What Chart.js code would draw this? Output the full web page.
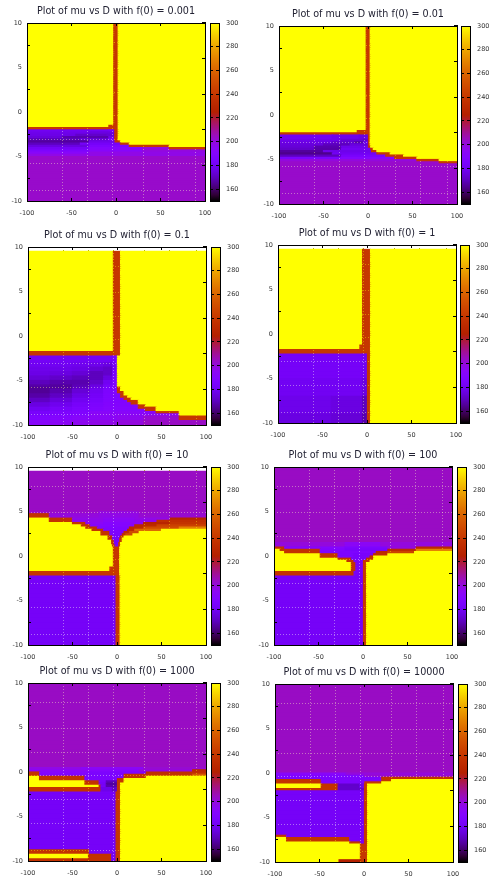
<!DOCTYPE html>
<html>
<head>
<meta charset="utf-8">
<title>mu vs D</title>
<script src="https://cdn.jsdelivr.net/npm/chart.js@4"></script>
<style>
  html, body { margin: 0; padding: 0; background: #fff; }
  body { position: relative; width: 504px; height: 891px; overflow: hidden; }
  canvas { position: absolute; }
</style>
</head>
<body>
<script>
// one row band = [mu top, mu bottom, D breaks, value of each D run]
const f0Labels = ['0.001', '0.01', '0.1', '1', '10', '100', '1000', '10000'];
const dTicks = [-100, -50, 0, 50, 100];
const muTicks = [-10, -5, 0, 5, 10];
const cbTicks = [160, 180, 200, 220, 240, 260, 280, 300];
const cbRange = [150, 300];
const seamD = [-60, -32, -4, 31, 59, 89];
const seamMu = [7.6, 4, 1.2, -2.2, -5.1, -8.8];

const bandsF001 = [
  [10, -1.5, [-100, -2.5, 2.5, 100], [300, 240, 300]],
  [-1.5, -1.75, [-100, -8, 2.5, 100], [300, 240, 300]],
  [-1.75, -2, [-100, 2.5, 100], [240, 300]],
  [-2, -2.25, [-100, -8, -1.5, 2.5, 100], [180, 182, 240, 300]],
  [-2.25, -2.5, [-100, -30, -1.5, 2.5, 100], [178, 176, 240, 300]],
  [-2.5, -2.75, [-100, -45, -10, -1.5, 2.5, 100], [177, 172, 174, 240, 300]],
  [-2.75, -3, [-100, -60, -8, -1.5, 2.5, 100], [175, 168, 178, 240, 300]],
  [-3, -3.25, [-100, -40, -8, -1.5, 2.5, 100], [170, 174, 185, 240, 300]],
  [-3.25, -3.5, [-100, -30, -1, 5, 100], [166, 178, 240, 300]],
  [-3.5, -3.75, [-100, -40, 5, 15, 100], [170, 182, 240, 300]],
  [-3.75, -4, [-100, -30, 15, 60, 100], [176, 186, 240, 300]],
  [-4, -4.25, [-100, -30, 30, 60, 100], [182, 190, 200, 240]],
  [-4.25, -4.5, [-100, -30, 30, 100], [186, 192, 200]],
  [-4.5, -4.75, [-100, -30, 100], [192, 198]],
  [-4.75, -5, [-100, 100], [198]],
  [-5, -10, [-100, 100], [203]]
];

const bandsF01 = [
  [10, -1.75, [-100, -2, 2.5, 100], [300, 240, 300]],
  [-1.75, -2, [-100, -12, 2.5, 100], [300, 240, 300]],
  [-2, -2.25, [-100, 2.5, 100], [240, 300]],
  [-2.25, -2.75, [-100, -40, -10, 0, 2.5, 100], [180, 178, 176, 240, 300]],
  [-2.75, -3, [-100, -30, -5, 0, 2.5, 100], [178, 174, 172, 240, 300]],
  [-3, -3.25, [-100, -40, -15, -5, 0, 2.5, 100], [177, 173, 168, 178, 240, 300]],
  [-3.25, -3.5, [-100, -50, -20, 0, 2.5, 100], [175, 170, 175, 240, 300]],
  [-3.5, -3.75, [-100, -60, -30, 0, 3, 100], [174, 168, 178, 240, 300]],
  [-3.75, -4, [-100, -60, -30, 3, 6, 100], [172, 167, 180, 240, 300]],
  [-4, -4.25, [-100, -50, 4, 10, 100], [166, 178, 240, 300]],
  [-4.25, -4.5, [-100, -40, 10, 25, 100], [164, 180, 240, 300]],
  [-4.5, -4.75, [-100, -30, 20, 40, 100], [170, 184, 240, 300]],
  [-4.75, -5, [-100, -30, 30, 55, 100], [185, 190, 240, 300]],
  [-5, -5.25, [-100, 55, 80, 100], [200, 240, 300]],
  [-5.25, -5.5, [-100, 80, 100], [203, 240]],
  [-5.5, -10, [-100, 100], [203]]
];

const bandsF1 = [
  [9.5, -1.75, [-100, -4, 4, 100], [300, 240, 300]],
  [-1.75, -2.25, [-100, 4, 100], [240, 300]],
  [-2.25, -3, [-100, -5, 0.5, 100], [181, 184, 300]],
  [-3, -3.5, [-100, -50, -30, -15, -5, 0.5, 100], [180, 179, 178, 176, 182, 300]],
  [-3.5, -4, [-100, -50, -30, -15, -5, 0.5, 100], [178, 177, 174, 172, 182, 300]],
  [-4, -4.5, [-100, -75, -50, -30, -15, -5, 0.5, 100], [177, 176, 174, 170, 172, 184, 300]],
  [-4.5, -5, [-100, -75, -50, -30, -15, -5, 0.5, 100], [174, 172, 170, 170, 176, 186, 300]],
  [-5, -5.5, [-100, -75, -50, -30, -15, -5, 0.5, 100], [170, 168, 168, 172, 180, 187, 300]],
  [-5.5, -5.75, [-100, -75, -50, -30, -15, -5, 0.5, 100], [167, 166, 169, 176, 183, 188, 300]],
  [-5.75, -6, [-100, -75, -50, -30, -15, -5, 0, 4, 100], [165, 166, 171, 178, 185, 188, 240, 300]],
  [-6, -6.25, [-100, -75, -50, -30, -15, -5, 0, 4, 100], [165, 168, 174, 180, 186, 188, 240, 300]],
  [-6.25, -6.5, [-100, -75, -50, -30, -15, -5, 0, 8, 100], [165, 168, 174, 180, 186, 188, 240, 300]],
  [-6.5, -6.75, [-100, -75, -50, -30, -15, 4, 8, 100], [167, 171, 177, 182, 187, 240, 300]],
  [-6.75, -7, [-100, -75, -50, -30, -15, 4, 12, 100], [167, 171, 177, 182, 187, 240, 300]],
  [-7, -7.25, [-100, -75, -50, -30, -15, 8, 16, 100], [171, 175, 180, 184, 188, 240, 300]],
  [-7.25, -7.5, [-100, -75, -50, -30, -15, 12, 24, 100], [171, 175, 180, 184, 188, 240, 300]],
  [-7.5, -7.75, [-100, -75, -50, -30, -15, 16, 24, 100], [176, 179, 183, 186, 189, 240, 300]],
  [-7.75, -8, [-100, -75, -50, -30, -15, 24, 32, 100], [176, 179, 183, 186, 189, 240, 300]],
  [-8, -8.25, [-100, -75, -50, -30, -15, 24, 44, 100], [180, 183, 186, 188, 190, 240, 300]],
  [-8.25, -8.5, [-100, -75, -50, -30, -15, 32, 44, 100], [180, 183, 186, 188, 190, 240, 300]],
  [-8.5, -8.75, [-100, -75, -50, -30, 44, 70, 100], [184, 186, 188, 192, 240, 300]],
  [-8.75, -9, [-100, -75, -50, -30, 70, 100], [184, 186, 188, 194, 300]],
  [-9, -9.5, [-100, -75, -50, -30, 0, 30, 70, 100], [188, 190, 192, 194, 196, 202, 240]],
  [-9.5, -10, [-100, -75, -50, -30, 0, 30, 100], [192, 194, 196, 198, 200, 204]]
];

const bandsF10 = [
  [9.5, -1.25, [-100, -5, 4, 100], [300, 240, 300]],
  [-1.25, -1.75, [-100, -8, 4, 100], [300, 240, 300]],
  [-1.75, -2.25, [-100, 4, 100], [240, 300]],
  [-2.25, -5, [-100, -5, 0, 4, 100], [182, 180, 240, 300]],
  [-5, -7, [-100, -5, 0, 4, 100], [180, 176, 240, 300]],
  [-7, -9, [-100, -40, -5, 0, 4, 100], [178, 176, 170, 240, 300]],
  [-9, -10, [-100, -40, -5, 0, 4, 100], [176, 174, 168, 240, 300]]
];

const bandsF100 = [
  [9.5, 5, [-100, 100], [204]],
  [5, 4.75, [-100, -20, 25, 100], [203, 200, 203]],
  [4.75, 4.25, [-100, -76, -20, 25, 100], [238, 200, 198, 202]],
  [4.25, 4, [-100, -76, -50, -15, 20, 60, 100], [300, 238, 198, 195, 198, 228]],
  [4, 3.75, [-100, -76, -50, -15, 20, 45, 100], [300, 238, 196, 193, 196, 235]],
  [3.75, 3.5, [-100, -50, -35, -15, 15, 30, 60, 100], [300, 238, 194, 190, 194, 228, 238]],
  [3.5, 3.25, [-100, -40, -30, 20, 45, 100], [300, 238, 190, 232, 245]],
  [3.25, 3, [-100, -35, -22, 14, 30, 70, 100], [300, 238, 188, 232, 250, 270]],
  [3, 2.75, [-100, -28, -15, 12, 20, 50, 100], [300, 238, 187, 232, 262, 300]],
  [2.75, 2.5, [-100, -18, -8, 8, 14, 25, 100], [300, 238, 186, 235, 250, 300]],
  [2.5, 2.25, [-100, -18, -8, 6, 10, 18, 100], [300, 238, 186, 235, 250, 300]],
  [2.25, 2, [-100, -10, -5, 4, 8, 100], [300, 238, 184, 238, 300]],
  [2, 1.75, [-100, -10, -5, 3, 6, 100], [300, 238, 184, 240, 300]],
  [1.75, 1.5, [-100, -6, -3, 3, 6, 100], [300, 238, 184, 240, 300]],
  [1.5, 1.25, [-100, -6, -3, 2, 4, 100], [300, 238, 184, 240, 300]],
  [1.25, 1, [-100, -5, -2, 2, 4, 100], [300, 238, 184, 240, 300]],
  [1, -1.25, [-100, -4, 3, 100], [300, 240, 300]],
  [-1.25, -1.75, [-100, -8, 3, 100], [300, 240, 300]],
  [-1.75, -2.25, [-100, 3, 100], [240, 300]],
  [-2.25, -10, [-100, -1, 3.5, 100], [182, 240, 300]]
];

const bandsF1000 = [
  [10, 1.5, [-100, 100], [204]],
  [1.5, 1, [-100, -20, 20, 100], [200, 194, 200]],
  [1, 0.75, [-100, -88, -20, 28, 60, 100], [238, 190, 186, 200, 232]],
  [0.75, 0.5, [-100, -93, -48, -20, 28, 60, 100], [300, 238, 188, 184, 232, 270]],
  [0.5, 0.25, [-100, -88, -48, 15, 28, 58, 100], [300, 238, 186, 232, 245, 300]],
  [0.25, 0, [-100, -48, -28, -10, 12, 28, 100], [300, 238, 186, 184, 235, 300]],
  [0, -0.25, [-100, -48, -28, -10, 8, 12, 100], [300, 238, 186, 184, 235, 300]],
  [-0.25, -0.5, [-100, -28, -13, 4, 12, 100], [300, 238, 184, 238, 300]],
  [-0.5, -0.75, [-100, -18, -10, 0, 8, 100], [300, 238, 184, 240, 300]],
  [-0.75, -1.75, [-100, -13, -8, 0, 4, 100], [300, 238, 184, 240, 300]],
  [-1.75, -2.25, [-100, -10, 0, 4, 100], [238, 183, 240, 300]],
  [-2.25, -10, [-100, 0, 4, 100], [182, 240, 300]]
];

const bandsF10000 = [
  [10, 0.5, [-100, 100], [204]],
  [0.5, 0.25, [-100, -40, 30, 100], [198, 194, 202]],
  [0.25, 0, [-100, -30, 25, 85, 100], [194, 190, 200, 232]],
  [0, -0.25, [-100, -87, -30, 33, 100], [238, 190, 186, 236]],
  [-0.25, -0.5, [-100, -87, -30, 8, 85, 100], [238, 188, 186, 238, 255]],
  [-0.5, -0.75, [-100, -87, -36, 8, 33, 100], [300, 238, 186, 238, 300]],
  [-0.75, -1, [-100, -87, -36, 0, 8, 100], [300, 238, 186, 238, 300]],
  [-1, -1.25, [-100, -36, -20, -12, 0, 8, 100], [300, 238, 184, 170, 240, 300]],
  [-1.25, -1.5, [-100, -36, -20, -12, 0, 4, 100], [300, 238, 182, 166, 240, 300]],
  [-1.5, -1.75, [-100, -20, -18, -12, 0, 4, 100], [300, 238, 182, 168, 240, 300]],
  [-1.75, -2.25, [-100, -18, -5, 0, 4, 100], [238, 178, 172, 240, 300]],
  [-2.25, -8.75, [-100, -1, 4, 100], [182, 240, 300]],
  [-8.75, -9.25, [-100, -31, -1, 4, 100], [238, 182, 240, 300]],
  [-9.25, -9.75, [-100, -32, -6, -1, 4, 100], [300, 238, 182, 240, 300]],
  [-9.75, -10, [-100, -6, -1, 4, 100], [238, 182, 240, 300]]
];

const bandsF100000 = [
  [10, 0, [-100, 100], [204]],
  [0, -0.25, [-100, -20, 100], [192, 200]],
  [-0.25, -0.5, [-100, 0, 100], [188, 202]],
  [-0.5, -0.75, [-100, 20, 100], [186, 238]],
  [-0.75, -1, [-100, -48, 20, 31, 100], [238, 186, 238, 300]],
  [-1, -1.25, [-100, -48, 1, 20, 100], [238, 186, 240, 300]],
  [-1.25, -1.75, [-100, -48, -29, -5, 0, 4, 100], [300, 238, 172, 178, 240, 300]],
  [-1.75, -2, [-100, -29, 0, 4, 100], [238, 172, 240, 300]],
  [-2, -7, [-100, 0, 4, 100], [182, 240, 300]],
  [-7, -7.25, [-100, -87, 0, 4, 100], [238, 182, 240, 300]],
  [-7.25, -7.75, [-100, -87, -16, 0, 4, 100], [300, 238, 182, 240, 300]],
  [-7.75, -8, [-100, -16, -4, 0, 4, 100], [300, 238, 182, 240, 300]],
  [-8, -9.75, [-100, -4, 4, 100], [300, 240, 300]],
  [-9.75, -10, [-100, -28, -3, 4, 100], [300, 225, 240, 300]]
];

const panelBands = [bandsF001, bandsF01, bandsF1, bandsF10, bandsF100, bandsF1000, bandsF10000, bandsF100000];

// plot left, plot top, colorbar left
const panelBoxes = [
  [27, 23, 210], [279, 26, 461],
  [28, 247, 211], [278, 245, 460],
  [28, 467, 211], [274, 467, 457],
  [28, 683, 211], [275, 684, 458]
];

const plotSize = 178;
const sideMargin = 30;
const titleSpace = 24;
const bottomSpace = 20;
const cbSpace = 20;
const rowStep = 0.25;
const tickFont = { family: '"DejaVu Sans"', size: 6.5 };

// gnuplot default pm3d palette: 7,5,15
function paletteColor(v) {
  const x = Math.min(1, Math.max(0, (v - cbRange[0]) / (cbRange[1] - cbRange[0])));
  const r = Math.sqrt(x);
  const g = x * x * x;
  const b = Math.max(0, Math.sin(2 * Math.PI * x));
  return `rgb(${Math.round(r * 255)},${Math.round(g * 255)},${Math.round(b * 255)})`;
}

function bandsToBars(bands) {
  const bars = [];
  bands.forEach(([top, bottom, breaks, values]) => {
    for (let mu = top; mu > bottom; mu -= rowStep) {
      values.forEach((v, i) => {
        bars.push({ y: mu - rowStep / 2, x: [breaks[i], breaks[i + 1]], v: v });
      });
    }
  });
  return bars;
}

function addCanvas(left, top, width, height) {
  const canvas = document.createElement('canvas');
  canvas.width = width;
  canvas.height = height;
  canvas.style.left = left + 'px';
  canvas.style.top = top + 'px';
  canvas.style.width = width + 'px';
  canvas.style.height = height + 'px';
  document.body.appendChild(canvas);
  return canvas;
}

function sized(prop, size) {
  return function(scale) { scale[prop] = size; };
}

// axis that only shows black inward ticks and the frame line
function frameAxis(position, range, ticks, prop, size, showLabels, padding) {
  return {
    type: 'linear',
    position: position,
    min: range[0],
    max: range[1],
    afterBuildTicks: function(scale) { scale.ticks = ticks.map(v => ({ value: v })); },
    afterFit: sized(prop, size),
    grid: { drawOnChartArea: false, drawTicks: true, tickLength: -3, color: '#000', z: 2 },
    border: { display: true, color: '#000', width: 1, z: 2 },
    ticks: {
      display: showLabels,
      autoSkip: false,
      maxRotation: 0,
      padding: padding,
      color: '#333',
      font: tickFont,
      callback: v => String(v)
    }
  };
}

// the pale dotted seams of the pm3d surface, kept off the yellow by the screen blend
function seamAxis(position, range, seams, prop) {
  return {
    type: 'linear',
    position: position,
    min: range[0],
    max: range[1],
    afterBuildTicks: function(scale) { scale.ticks = seams.map(v => ({ value: v })); },
    afterFit: sized(prop, 0),
    grid: { drawOnChartArea: true, drawTicks: false, color: 'rgb(105,105,0)', z: -2 },
    border: { display: false, dash: [1, 2] },
    ticks: { display: false }
  };
}

const seamPlugin = {
  id: 'seams',
  afterDatasetsDraw(chart) {
    const c = chart.ctx;
    c.save();
    c.globalCompositeOperation = 'screen';
    chart.scales.xSeam.drawGrid(chart.chartArea);
    chart.scales.ySeam.drawGrid(chart.chartArea);
    c.restore();
  }
};

function drawPanel(index) {
  const [left, top, cbLeft] = panelBoxes[index];
  const canvas = addCanvas(left - sideMargin, top - titleSpace, plotSize + 2 * sideMargin, titleSpace + plotSize + bottomSpace);
  new Chart(canvas, {
    type: 'bar',
    plugins: [seamPlugin],
    data: {
      datasets: [{
        data: bandsToBars(panelBands[index]),
        backgroundColor: ctx => paletteColor(ctx.raw.v),
        borderWidth: 0,
        inflateAmount: 0.6,
        barPercentage: 1,
        categoryPercentage: 1
      }]
    },
    options: {
      indexAxis: 'y',
      responsive: false,
      animation: false,
      events: [],
      layout: { padding: 0 },
      plugins: {
        legend: { display: false },
        tooltip: { enabled: false },
        title: {
          display: true,
          text: 'Plot of mu vs D with f(0) = ' + f0Labels[index],
          color: '#223',
          font: { family: '"DejaVu Sans"', size: 9.6, weight: 'normal', lineHeight: 1.25 },
          padding: { top: 6, bottom: 6 }
        }
      },
      scales: {
        x: frameAxis('bottom', [-100, 100], dTicks, 'height', bottomSpace, true, 11),
        y: Object.assign(frameAxis('left', [-10, 10], muTicks, 'width', sideMargin, true, 8), { offset: false }),
        xTop: frameAxis('top', [-100, 100], dTicks, 'height', 0, false, 0),
        yRight: frameAxis('right', [-10, 10], muTicks, 'width', sideMargin, false, 0),
        xSeam: seamAxis('top', [-100, 100], seamD, 'height'),
        ySeam: seamAxis('right', [-10, 10], seamMu, 'width')
      }
    }
  });

  // colorbar
  const cbWidth = 9;
  const cbCanvas = addCanvas(cbLeft - 2, top - cbSpace, cbWidth + 32, plotSize + 2 * cbSpace);
  new Chart(cbCanvas, {
    type: 'bar',
    data: {
      labels: ['cb'],
      datasets: [{
        data: [cbRange],
        borderWidth: 0,
        barPercentage: 1,
        categoryPercentage: 1,
        backgroundColor: function(ctx) {
          const area = ctx.chart.chartArea;
          if (!area) return '#000';
          const gradient = ctx.chart.ctx.createLinearGradient(0, area.bottom, 0, area.top);
          for (let v = cbRange[0]; v <= cbRange[1]; v += 5) {
            gradient.addColorStop((v - cbRange[0]) / (cbRange[1] - cbRange[0]), paletteColor(v));
          }
          return gradient;
        }
      }]
    },
    options: {
      responsive: false,
      animation: false,
      events: [],
      layout: { padding: 0 },
      plugins: { legend: { display: false }, tooltip: { enabled: false } },
      scales: {
        x: {
          type: 'category',
          afterFit: sized('height', cbSpace),
          grid: { display: false },
          border: { display: true, color: '#000', z: 2 },
          ticks: { display: false }
        },
        xTop: {
          type: 'category',
          position: 'top',
          labels: ['cb'],
          afterFit: sized('height', cbSpace),
          grid: { display: false },
          border: { display: true, color: '#000', z: 2 },
          ticks: { display: false }
        },
        y: frameAxis('left', cbRange, cbTicks, 'width', 2, false, 0),
        yRight: frameAxis('right', cbRange, cbTicks, 'width', 30, true, 10)
      }
    }
  });
}

panelBands.forEach((bands, i) => drawPanel(i));
</script>
</body>
</html>
